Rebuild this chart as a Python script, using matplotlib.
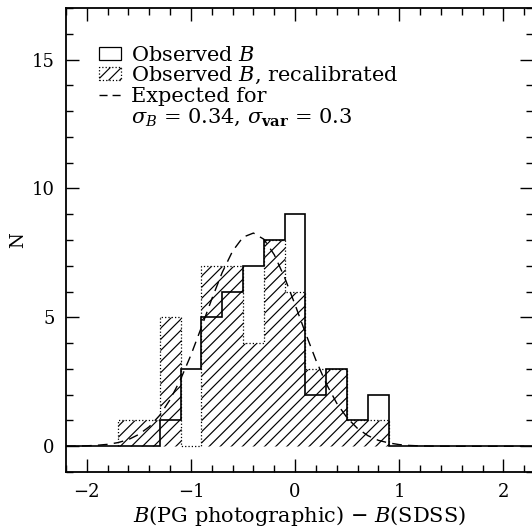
import numpy as np
import matplotlib
matplotlib.use("Agg")
import matplotlib.pyplot as plt
from matplotlib.patches import Patch
from matplotlib.lines import Line2D
from matplotlib.ticker import MultipleLocator

plt.rcParams['font.family'] = 'DejaVu Serif'
plt.rcParams['mathtext.fontset'] = 'dejavuserif'
plt.rcParams['hatch.linewidth'] = 0.85

# bins of width 0.2 starting at -1.7
bin_lo = -1.7
bin_width = 0.2
n_observed = [0, 0, 1, 3, 5, 6, 7, 8, 9, 2, 3, 1, 2]
n_recal = [1, 1, 5, 0, 7, 7, 4, 8, 6, 3, 3, 1, 1]

# expected distribution, sampled every 0.1 from -2.2
exp_x0 = -2.2
exp_step = 0.1
exp_n = [0.003, 0.007, 0.018, 0.04, 0.075, 0.143, 0.26, 0.46, 0.76, 1.20,
         1.81, 2.59, 3.54, 4.61, 5.71, 6.74, 7.57, 8.11, 8.27, 8.03,
         7.43, 6.54, 5.49, 4.39, 3.34, 2.42, 1.67, 1.10, 0.69, 0.41,
         0.23, 0.13, 0.065, 0.032, 0.015, 0.007, 0.003, 0.001, 0.0, 0.0,
         0.0, 0.0, 0.0, 0.0, 0.0]

edges = bin_lo + bin_width * np.arange(len(n_observed) + 1)
# pad with empty bins so the zero level runs across the whole axis
pad = 9
edges_pad = bin_lo + bin_width * np.arange(-pad, len(n_observed) + pad + 1)
obs_pad = np.concatenate([np.zeros(pad), n_observed, np.zeros(pad)])
exp_x = exp_x0 + exp_step * np.arange(len(exp_n))

fig = plt.figure(figsize=(5.32, 5.31), dpi=100)
ax = fig.add_axes([0.124, 0.111, 0.877, 0.874])

ax.stairs(n_recal, edges, fill=True, facecolor='none', edgecolor='black',
          hatch='///', linestyle=':', linewidth=0.9)
ax.stairs(obs_pad, edges_pad, color='black', linewidth=1.2)
ax.plot(exp_x, exp_n, color='black', linewidth=1.0, linestyle=(0, (7, 4.5)))

ax.set_xlim(-2.2, 2.28)
ax.set_ylim(-1, 17)
ax.xaxis.set_major_locator(MultipleLocator(1))
ax.xaxis.set_minor_locator(MultipleLocator(0.2))
ax.yaxis.set_major_locator(MultipleLocator(5))
ax.yaxis.set_minor_locator(MultipleLocator(1))
ax.tick_params(which='both', direction='in', top=True, right=True,
               labelsize=13, width=1.0)
ax.tick_params(which='major', length=9.5, pad=8)
ax.tick_params(which='minor', length=5)
for s in ax.spines.values():
    s.set_linewidth(1.3)

ax.set_xlabel(r'$B$(PG photographic) $-$ $B$(SDSS)', fontsize=15, labelpad=2)
ax.set_ylabel('N', fontsize=13)
ax.yaxis.set_label_coords(-0.084, 0.5)

handles = [
    Patch(facecolor='none', edgecolor='black', linewidth=0.9),
    Patch(facecolor='none', edgecolor='black', hatch='///', linestyle=':', linewidth=0.9),
    Line2D([], [], color='black', linewidth=1.0, linestyle=(0, (5.8, 3.6))),
    Line2D([], [], color='none'),
]
labels = [
    r'Observed $B$',
    r'Observed $B$, recalibrated',
    'Expected for',
    r'$\sigma_B$ = 0.34, $\sigma_{\mathbf{var}}$ = 0.3',
]
ax.legend(handles, labels, loc='upper left', bbox_to_anchor=(0.071, 0.919),
          frameon=False, fontsize=15, handlelength=1.06, handleheight=0.6,
          handletextpad=0.45, labelspacing=0.02, borderpad=0, borderaxespad=0)

fig.savefig('out.png', dpi=100)
